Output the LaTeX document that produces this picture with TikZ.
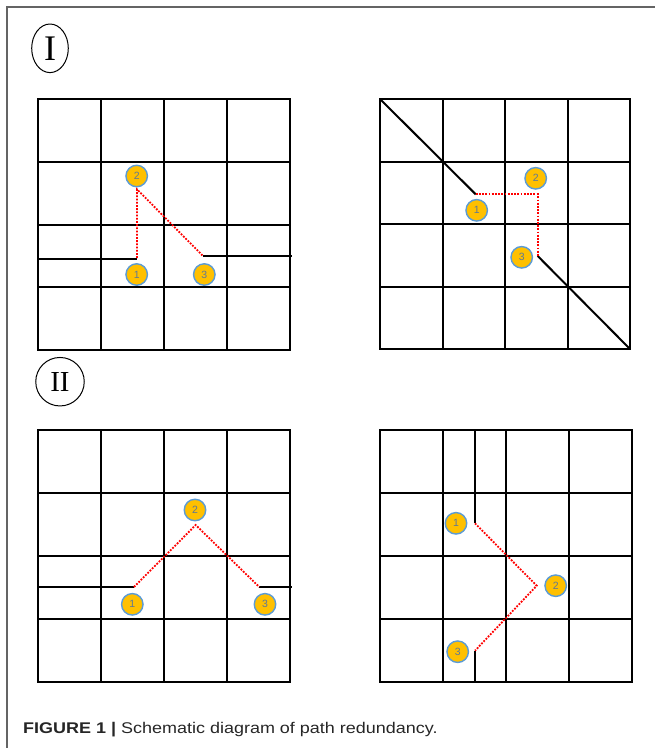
\documentclass[tikz,border=0pt]{standalone}
\usepackage{fontspec}
\setmainfont{Liberation Serif}
\setsansfont{Liberation Sans}
\newfontfamily\capfont{Liberation Sans}[FakeStretch=1.16]
\usetikzlibrary{shapes.geometric}
\definecolor{dotfill}{RGB}{255,192,0}
\definecolor{dotedge}{RGB}{91,155,213}
\definecolor{numcol}{RGB}{95,120,150}
\definecolor{pathred}{RGB}{255,0,0}
\definecolor{framegray}{RGB}{100,100,100}
\newcommand{\fourgrid}[4]{%
  \foreach \i in {0,...,4}{%
    \pgfmathsetmacro\gx{round(#1+\i*#3/4)}%
    \pgfmathsetmacro\gy{round(#2+\i*#4/4)}%
    \draw[gridline] (\gx,#2) -- (\gx,{#2+#4});
    \draw[gridline] (#1,\gy) -- ({#1+#3},\gy);
  }}
\begin{document}
\begin{tikzpicture}[x=1pt,y=-1pt,
  gridline/.style={line width=2pt,black,line cap=rect},
  wall/.style={line width=2pt,black},
  route/.style={line width=1.8pt,pathred,dash pattern=on 1.8pt off 1.4pt},
  dot/.style={circle,fill=dotfill,draw=dotedge,line width=1.4pt,minimum size=21.5pt,inner sep=0pt,
    font=\sffamily\fontsize{10.5}{10.5}\selectfont,text=numcol},
  ovalmark/.style={ellipse,draw,line width=1pt,inner sep=0pt,font=\fontsize{36}{36}\selectfont},
  roundmark/.style={circle,draw,line width=1pt,inner sep=0pt,minimum size=48.5pt,font=\fontsize{29}{29}\selectfont}]
\useasboundingbox (0,0) rectangle (655,748);
% frame
\draw[framegray,line width=1.4pt] (7,748) -- (7,7) -- (655,7);
% section marks
\node[ovalmark,minimum width=36.6pt,minimum height=48.6pt] (m1) at (50,48.3) {I};
\node[roundmark] (m2) at (60,381.7) {II};
% ---------- panel top-left ----------
\fourgrid{38}{99}{252}{251}
\draw[wall] (38,259) -- (137,259);
\draw[wall] (203,256) -- (291.5,256);
\coordinate (tlA) at (137,258);
\coordinate (tlB) at (137,189.3);
\coordinate (tlC) at (203,256);
\draw[route] (tlA) -- (tlB) -- (tlC);
\node[dot] (tl1) at (136.7,274.5) {1};
\node[dot] (tl2) at (136.7,176) {2};
\node[dot] (tl3) at (204.3,274.5) {3};
% ---------- panel top-right ----------
\fourgrid{380}{99}{250}{250}
\coordinate (trA) at (475.7,194.3);
\coordinate (trB) at (537.7,194.3);
\coordinate (trC) at (537.7,256);
\draw[wall] (380,99) -- (trA);
\draw[wall] (trC) -- (630,349);
\draw[route] (trA) -- (trB) -- (trC);
\node[dot] (tr1) at (476.7,210.3) {1};
\node[dot] (tr2) at (535.7,178.3) {2};
\node[dot] (tr3) at (521.7,257.3) {3};
% ---------- panel bottom-left ----------
\fourgrid{37.5}{430}{252}{251.5}
\coordinate (blA) at (134,587);
\coordinate (blB) at (195.7,525);
\coordinate (blC) at (259.3,587);
\draw[wall] (37.5,587) -- (blA);
\draw[wall] (blC) -- (291.7,587);
\draw[route] (blA) -- (blB) -- (blC);
\node[dot] (bl1) at (132.3,604.3) {1};
\node[dot] (bl2) at (195,510) {2};
\node[dot] (bl3) at (265,604.3) {3};
% ---------- panel bottom-right ----------
\fourgrid{379.5}{430}{252}{251.5}
\coordinate (brA) at (475,523.3);
\coordinate (brB) at (536.7,585.7);
\coordinate (brC) at (475,650.7);
\draw[wall] (475,430) -- (brA);
\draw[wall] (brC) -- (475,681.5);
\draw[route] (brA) -- (brB) -- (brC);
\node[dot] (br1) at (456,523.3) {1};
\node[dot] (br2) at (555.7,585.7) {2};
\node[dot] (br3) at (457.7,651.7) {3};
% caption
\node[anchor=base west,inner sep=0pt,font=\capfont\fontsize{15.5}{15.5}\selectfont,text=black!85] (cap) at (23,733)
  {\textbf{FIGURE 1 |} Schematic diagram of path redundancy.};
\end{tikzpicture}
\end{document}
